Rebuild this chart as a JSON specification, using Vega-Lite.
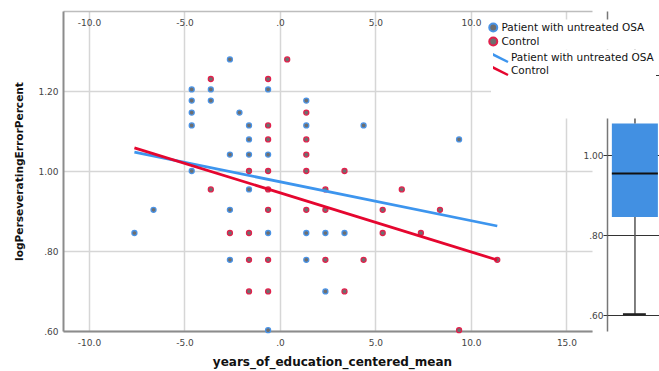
{
  "$schema": "https://vega.github.io/schema/vega-lite/v6.json",
  "width": 529,
  "height": 320,
  "autosize": {"type": "none"},
  "padding": {"left": 63, "top": 11, "right": 67, "bottom": 40},
  "background": "white",
  "config": {
    "view": {"stroke": null},
    "font": "DejaVu Sans",
    "axis": {"labelFont": "DejaVu Sans", "titleFont": "DejaVu Sans"},
    "legend": {"labelFont": "DejaVu Sans", "titleFont": "DejaVu Sans"}
  },
  "datasets": {
    "points": [
      {"group": "Patient with untreated OSA", "x": -7.62, "y": 0.845},
      {"group": "Patient with untreated OSA", "x": -6.62, "y": 0.903},
      {"group": "Patient with untreated OSA", "x": -4.62, "y": 1.204},
      {"group": "Patient with untreated OSA", "x": -4.62, "y": 1.176},
      {"group": "Patient with untreated OSA", "x": -4.62, "y": 1.146},
      {"group": "Patient with untreated OSA", "x": -4.62, "y": 1.114},
      {"group": "Patient with untreated OSA", "x": -4.62, "y": 1.0},
      {"group": "Patient with untreated OSA", "x": -3.62, "y": 1.204},
      {"group": "Patient with untreated OSA", "x": -3.62, "y": 1.176},
      {"group": "Patient with untreated OSA", "x": -2.62, "y": 1.279},
      {"group": "Patient with untreated OSA", "x": -2.62, "y": 1.041},
      {"group": "Patient with untreated OSA", "x": -2.62, "y": 0.903},
      {"group": "Patient with untreated OSA", "x": -2.62, "y": 0.778},
      {"group": "Patient with untreated OSA", "x": -2.12, "y": 1.146},
      {"group": "Patient with untreated OSA", "x": -1.62, "y": 1.114},
      {"group": "Patient with untreated OSA", "x": -1.62, "y": 1.079},
      {"group": "Patient with untreated OSA", "x": -1.62, "y": 1.041},
      {"group": "Patient with untreated OSA", "x": -1.62, "y": 0.954},
      {"group": "Patient with untreated OSA", "x": -0.62, "y": 1.204},
      {"group": "Patient with untreated OSA", "x": -0.62, "y": 1.041},
      {"group": "Patient with untreated OSA", "x": -0.62, "y": 0.845},
      {"group": "Patient with untreated OSA", "x": -0.62, "y": 0.602},
      {"group": "Patient with untreated OSA", "x": 1.38, "y": 1.176},
      {"group": "Patient with untreated OSA", "x": 1.38, "y": 1.114},
      {"group": "Patient with untreated OSA", "x": 1.38, "y": 0.845},
      {"group": "Patient with untreated OSA", "x": 1.38, "y": 0.778},
      {"group": "Patient with untreated OSA", "x": 2.38, "y": 0.845},
      {"group": "Patient with untreated OSA", "x": 2.38, "y": 0.699},
      {"group": "Patient with untreated OSA", "x": 3.38, "y": 0.845},
      {"group": "Patient with untreated OSA", "x": 4.38, "y": 1.114},
      {"group": "Patient with untreated OSA", "x": 9.38, "y": 1.079},
      {"group": "Control", "x": -3.62, "y": 1.23},
      {"group": "Control", "x": -3.62, "y": 0.954},
      {"group": "Control", "x": -2.62, "y": 0.845},
      {"group": "Control", "x": -1.62, "y": 1.0},
      {"group": "Control", "x": -1.62, "y": 0.845},
      {"group": "Control", "x": -1.62, "y": 0.778},
      {"group": "Control", "x": -1.62, "y": 0.699},
      {"group": "Control", "x": -0.62, "y": 1.23},
      {"group": "Control", "x": -0.62, "y": 1.114},
      {"group": "Control", "x": -0.62, "y": 1.079},
      {"group": "Control", "x": -0.62, "y": 1.0},
      {"group": "Control", "x": -0.62, "y": 0.954},
      {"group": "Control", "x": -0.62, "y": 0.903},
      {"group": "Control", "x": -0.62, "y": 0.778},
      {"group": "Control", "x": -0.62, "y": 0.699},
      {"group": "Control", "x": 0.38, "y": 1.279},
      {"group": "Control", "x": 1.38, "y": 1.146},
      {"group": "Control", "x": 1.38, "y": 1.079},
      {"group": "Control", "x": 1.38, "y": 1.041},
      {"group": "Control", "x": 1.38, "y": 1.0},
      {"group": "Control", "x": 1.38, "y": 0.903},
      {"group": "Control", "x": 2.38, "y": 0.954},
      {"group": "Control", "x": 2.38, "y": 0.903},
      {"group": "Control", "x": 2.38, "y": 0.778},
      {"group": "Control", "x": 3.38, "y": 1.0},
      {"group": "Control", "x": 3.38, "y": 0.699},
      {"group": "Control", "x": 4.38, "y": 0.778},
      {"group": "Control", "x": 5.38, "y": 0.903},
      {"group": "Control", "x": 5.38, "y": 0.845},
      {"group": "Control", "x": 6.38, "y": 0.954},
      {"group": "Control", "x": 7.38, "y": 0.845},
      {"group": "Control", "x": 8.38, "y": 0.903},
      {"group": "Control", "x": 9.38, "y": 0.602},
      {"group": "Control", "x": 11.38, "y": 0.778}
    ],
    "fits": [
      {"group": "Patient with untreated OSA", "x": -7.62, "y": 1.047},
      {"group": "Patient with untreated OSA", "x": 11.38, "y": 0.8625},
      {"group": "Control", "x": -7.62, "y": 1.058},
      {"group": "Control", "x": 11.38, "y": 0.7775}
    ],
    "box": [
      {"min": 0.602, "q1": 0.845, "median": 0.954, "q3": 1.079, "max": 1.279}
    ]
  },
  "layer": [
    {
      "data": {"name": "points"},
      "mark": {"type": "circle", "fill": "#6e6e6e", "opacity": 1, "size": 25, "strokeWidth": 1.3},
      "encoding": {
        "x": {
          "field": "x", "type": "quantitative",
          "scale": {"domain": [-11.36, 16.34], "nice": false, "zero": false},
          "axis": {
            "orient": "bottom",
            "values": [-10, -5, 0, 5, 10, 15],
            "labelExpr": "datum.value == 0 ? '.0' : (datum.value < 0 ? '-' : '') + format(abs(datum.value), '.1f')",
            "grid": true, "gridColor": "#d6d6d6", "gridWidth": 1.5,
            "domainColor": "#8c8c8c", "domainWidth": 2,
            "ticks": false, "tickSize": 0,
            "labelPadding": 7, "labelFontSize": 9, "labelColor": "#444", "labelFlush": false,
            "title": "years_of_education_centered_mean",
            "titleX": 269,
            "titleFontWeight": "bold", "titleFontSize": 12, "titleColor": "#111", "titlePadding": 9
          }
        },
        "y": {
          "field": "y", "type": "quantitative",
          "scale": {"domain": [0.6, 1.4], "nice": false, "zero": false},
          "axis": {
            "orient": "left",
            "values": [0.6, 0.8, 1.0, 1.2],
            "labelExpr": "datum.value < 1 ? substring(format(datum.value, '.2f'), 1) : format(datum.value, '.2f')",
            "grid": true, "gridColor": "#d6d6d6", "gridWidth": 1.5,
            "domainColor": "#8c8c8c", "domainWidth": 2,
            "ticks": false, "tickSize": 0,
            "labelPadding": 5, "labelFontSize": 9, "labelColor": "#444", "labelFlush": false,
            "title": "logPerseveratingErrorPercent",
            "titleAnchor": "middle",
            "titleFontWeight": "bold", "titleFontSize": 10.6, "titleColor": "#111", "titlePadding": 13
          }
        },
        "stroke": {
          "field": "group", "type": "nominal",
          "scale": {"domain": ["Patient with untreated OSA", "Control"], "range": ["#4a93e6", "#e2204c"]},
          "legend": {
            "orient": "none", "legendX": 423, "legendY": 8.5,
            "title": null, "fillColor": "white", "padding": 2,
            "symbolType": "circle", "symbolSize": 64, "symbolStrokeWidth": 2,
            "symbolFillColor": "#6e6e6e", "symbolOpacity": 1,
            "labelFontSize": 10.5, "labelColor": "#111", "labelOffset": 3,
            "clipHeight": 12, "rowPadding": 2, "labelLimit": 300
          }
        }
      }
    },
    {
      "data": {"name": "fits"},
      "mark": {"type": "line", "strokeWidth": 2.8},
      "encoding": {
        "x": {
          "field": "x", "type": "quantitative",
          "scale": {"domain": [-11.36, 16.34], "nice": false, "zero": false},
          "axis": {
            "orient": "top",
            "values": [-10, -5, 0, 5, 10],
            "labelExpr": "datum.value == 0 ? '.0' : (datum.value < 0 ? '-' : '') + format(abs(datum.value), '.1f')",
            "grid": false,
            "domainColor": "#bdbdbd", "domainWidth": 1.5,
            "ticks": false, "tickSize": 0,
            "labelPadding": -11.5, "labelBaseline": "middle",
            "labelFontSize": 9, "labelColor": "#444", "labelFlush": false,
            "title": null
          }
        },
        "y": {
          "field": "y", "type": "quantitative",
          "scale": {"domain": [0.6, 1.4], "nice": false, "zero": false},
          "axis": null
        },
        "color": {
          "field": "group", "type": "nominal",
          "scale": {"domain": ["Control", "Patient with untreated OSA"], "range": ["#e5062f", "#3d95ee"]},
          "legend": {
            "orient": "none", "legendX": 428, "legendY": 38.5,
            "values": ["Patient with untreated OSA", "Control"],
            "title": " ", "titleOrient": "bottom", "titlePadding": 30, "titleFontSize": 10,
            "fillColor": "white", "padding": 2,
            "symbolType": "M-2,-1L2,1", "symbolSize": 81, "symbolStrokeWidth": 2.5,
            "labelFontSize": 10.5, "labelColor": "#111", "labelOffset": 6,
            "clipHeight": 12, "rowPadding": 1, "labelLimit": 300
          }
        }
      }
    },
    {
      "data": {"name": "box"},
      "mark": {"type": "rect", "color": "#4290e2", "clip": false},
      "encoding": {
        "x": {"datum": 17.38, "type": "quantitative", "scale": {"domain": [-11.36, 16.34], "nice": false, "zero": false}, "axis": null},
        "x2": {"datum": 19.79},
        "y": {
          "field": "q1", "type": "quantitative",
          "scale": {"domain": [0.56, 1.36], "nice": false, "zero": false},
          "axis": {
            "orient": "left", "offset": -544,
            "values": [0.6, 0.8, 1.0, 1.2],
            "labelExpr": "datum.value < 1 ? substring(format(datum.value, '.2f'), 1) : format(datum.value, '.2f')",
            "grid": false,
            "domainColor": "#777", "domainWidth": 1.5,
            "ticks": true, "tickSize": 4, "tickColor": "#333", "tickWidth": 1,
            "labelPadding": 0, "labelFontSize": 9, "labelColor": "#444", "labelFlush": false,
            "title": null
          }
        },
        "y2": {"field": "q3"}
      }
    },
    {
      "data": {"name": "box"},
      "mark": {"type": "rule", "color": "#555", "strokeWidth": 1.5, "clip": false},
      "encoding": {
        "x": {"datum": 18.59, "type": "quantitative", "scale": {"domain": [-11.36, 16.34], "nice": false, "zero": false}, "axis": null},
        "y": {
          "field": "min", "type": "quantitative",
          "scale": {"domain": [0.56, 1.36], "nice": false, "zero": false},
          "axis": {
            "orient": "right", "offset": 15,
            "values": [0.6, 0.8, 1.0, 1.2],
            "grid": false, "domain": false, "labels": false,
            "ticks": true, "tickSize": 54, "tickColor": "#333", "tickWidth": 1,
            "title": null
          }
        },
        "y2": {"field": "q1"}
      }
    },
    {
      "data": {"name": "box"},
      "mark": {"type": "rule", "color": "#555", "strokeWidth": 1.5, "clip": false},
      "encoding": {
        "x": {"datum": 18.59, "type": "quantitative", "scale": {"domain": [-11.36, 16.34], "nice": false, "zero": false}, "axis": null},
        "y": {"field": "q3", "type": "quantitative", "scale": {"domain": [0.56, 1.36], "nice": false, "zero": false}, "axis": null},
        "y2": {"field": "max"}
      }
    },
    {
      "data": {"name": "box"},
      "mark": {"type": "rule", "color": "#222", "strokeWidth": 2, "clip": false},
      "encoding": {
        "x": {"datum": 17.96, "type": "quantitative", "scale": {"domain": [-11.36, 16.34], "nice": false, "zero": false}, "axis": null},
        "x2": {"datum": 19.16},
        "y": {"field": "min", "type": "quantitative", "scale": {"domain": [0.56, 1.36], "nice": false, "zero": false}, "axis": null}
      }
    },
    {
      "data": {"name": "box"},
      "mark": {"type": "rule", "color": "#111", "strokeWidth": 2, "clip": false},
      "encoding": {
        "x": {"datum": 17.38, "type": "quantitative", "scale": {"domain": [-11.36, 16.34], "nice": false, "zero": false}, "axis": null},
        "x2": {"datum": 19.79},
        "y": {"field": "median", "type": "quantitative", "scale": {"domain": [0.56, 1.36], "nice": false, "zero": false}, "axis": null}
      }
    }
  ],
  "resolve": {"scale": {"y": "independent"}}
}
